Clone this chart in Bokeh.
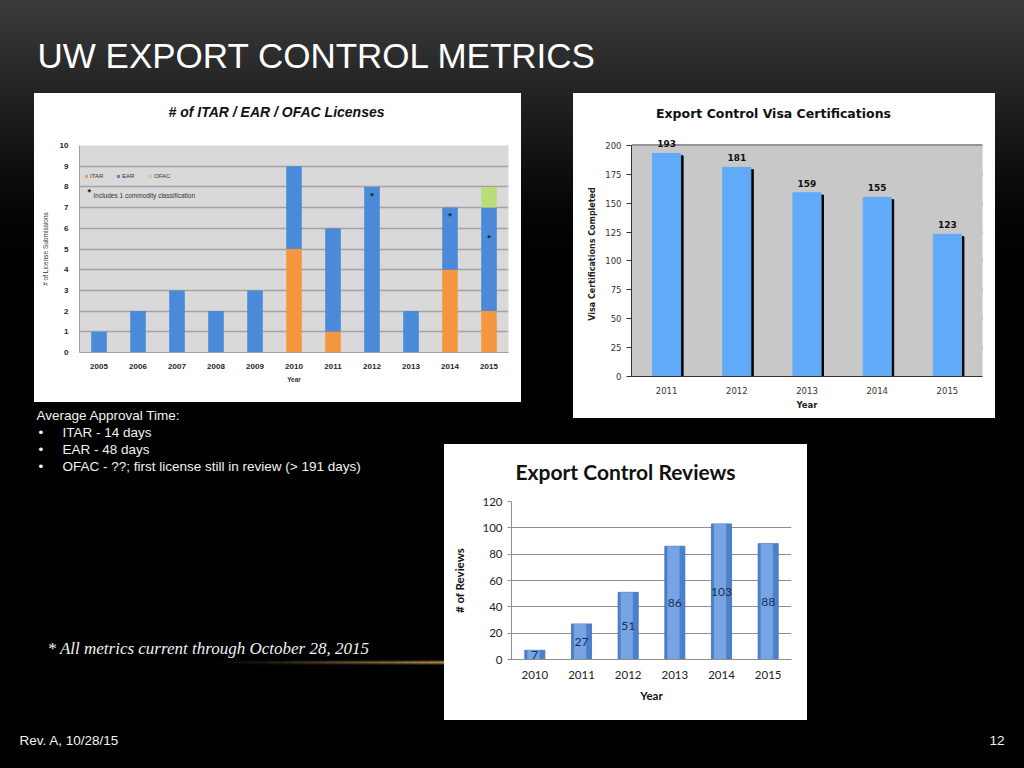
from bokeh.plotting import figure
from bokeh.models import (ColumnDataSource, GridBox, Label, LabelSet, Legend, LegendItem,
                          Range1d, FactorRange, FixedTicker, BoxAnnotation)
from bokeh.embed import file_html
from bokeh.resources import INLINE
from bokeh.core.properties import value
from bokeh.transform import dodge

# ---------------- data ----------------
slide_title = "UW EXPORT CONTROL METRICS"

lic_title = "# of ITAR / EAR / OFAC Licenses"
lic_years = ["2005", "2006", "2007", "2008", "2009", "2010", "2011", "2012", "2013", "2014", "2015"]
lic_itar = [0, 0, 0, 0, 0, 5, 1, 0, 0, 4, 2]
lic_ear = [1, 2, 3, 2, 3, 4, 5, 8, 2, 3, 5]
lic_ofac = [0, 0, 0, 0, 0, 0, 0, 0, 0, 0, 1]
lic_star_years = ["2012", "2014", "2015"]
lic_star_y = [7.55, 6.6, 5.55]
lic_ticks = [0, 1, 2, 3, 4, 5, 6, 7, 8, 9, 10]
lic_note = "Includes 1 commodity classification"

visa_title = "Export Control Visa Certifications"
visa_years = ["2011", "2012", "2013", "2014", "2015"]
visa_counts = [193, 181, 159, 155, 123]
visa_ticks = [0, 25, 50, 75, 100, 125, 150, 175, 200]

rev_title = "Export Control Reviews"
rev_years = ["2010", "2011", "2012", "2013", "2014", "2015"]
rev_counts = [7, 27, 51, 86, 103, 88]
rev_ticks = [0, 20, 40, 60, 80, 100, 120]

approval_head = "Average Approval Time:"
approval_lines = ["ITAR - 14 days", "EAR - 48 days",
                  "OFAC - ??; first license still in review (> 191 days)"]
footnote = "* All metrics current through October 28, 2015"
rev_note = "Rev. A, 10/28/15"
page_no = "12"

SANS = "Liberation Sans"
VER = "DejaVu Sans"
LATO = "Lato"
WHITE_BOX = {"background-color": "#ffffff"}


def no_align(p):
    if "frame_align" in p.properties():
        p.frame_align = False
    return p


def canvas(w, h, bg=None):
    p = figure(width=w, height=h, x_range=Range1d(0, w), y_range=Range1d(0, h),
               toolbar_location=None, output_backend="svg", min_border=0,
               x_axis_location=None, y_axis_location=None, title=None)
    p.grid.visible = False
    p.outline_line_color = None
    if bg is None:
        p.background_fill_alpha = 0
        p.border_fill_alpha = 0
    else:
        p.background_fill_color = bg
        p.border_fill_color = bg
        p.styles = {"background-color": bg}
    return no_align(p)


# ---------------- header (page y 0..93) ----------------
HH = 93
header = canvas(1024, HH)
header.text(x=[37], y=[HH - 55], text=[slide_title], text_font=value(SANS),
            text_font_size="35px", text_color="#ffffff", text_baseline="middle")

# ---------------- lower-left text block (page x 0..444, y 402..700) ----------------
LH = 298
ll = canvas(444, LH)
ll.text(x=[36], y=[LH - 13], text=[approval_head], text_font=value(SANS),
        text_font_size="13.5px", text_color="#f2f2f2", text_baseline="middle")
ll.text(x=[38, 38, 38], y=[LH - 30, LH - 47, LH - 64], text=["\u2022"] * 3,
        text_font=value(SANS), text_font_size="13.5px", text_color="#f2f2f2",
        text_baseline="middle")
ll.text(x=[62, 62, 62], y=[LH - 30, LH - 47, LH - 64], text=approval_lines,
        text_font=value(SANS), text_font_size="13.5px", text_color="#f2f2f2",
        text_baseline="middle")
n = 30
sx0 = [190 + i * (254 / n) for i in range(n)]
sx1 = [190 + (i + 1) * (254 / n) for i in range(n)]
ll.segment(x0=sx0, y0=[LH - 260] * n, x1=sx1, y1=[LH - 260] * n, line_color="#c9a35c",
           line_alpha=[(i / n) ** 1.5 for i in range(n)], line_width=2)
ll.segment(x0=sx0, y0=[LH - 260] * n, x1=sx1, y1=[LH - 260] * n, line_color="#8a6a30",
           line_alpha=[0.35 * (i / n) ** 1.5 for i in range(n)], line_width=5)
ll.text(x=[47], y=[LH - 246], text=[footnote], text_font=value("Liberation Serif"),
        text_font_style="italic", text_font_size="17px", text_color="#f2f2f2",
        text_baseline="middle")

# ---------------- footer (page y 720..768) ----------------
FH = 48
footer = canvas(1024, FH)
footer.text(x=[19], y=[FH - 20], text=[rev_note], text_font=value(SANS),
            text_font_size="13.5px", text_color="#f2f2f2", text_baseline="middle")
footer.text(x=[1004], y=[FH - 20], text=[page_no], text_font=value(SANS),
            text_font_size="13.5px", text_color="#f2f2f2", text_baseline="middle",
            text_align="right")

# ---------------- chart 1: licenses (box x 34..521, y 93..402) ----------------
t1 = canvas(487, 37, bg="#ffffff")
t1.text(x=[242], y=[37 - 18], text=[lic_title], text_font=value(SANS),
        text_font_size="14px", text_font_style="bold italic", text_color="#111111",
        text_align="center", text_baseline="middle")

src1 = ColumnDataSource(dict(year=lic_years, itar=lic_itar, ear=lic_ear, ofac=lic_ofac))
p1 = figure(width=487, height=272, x_range=FactorRange(*lic_years), y_range=Range1d(0, 10),
            toolbar_location=None, output_backend="svg", title=None, styles=WHITE_BOX,
            min_border_left=45, min_border_right=13, min_border_top=15, min_border_bottom=50)
no_align(p1)
p1.background_fill_color = "#d9d9d9"
p1.border_fill_color = "#ffffff"
p1.outline_line_color = None
rs = p1.vbar_stack(["itar", "ear", "ofac"], x="year", width=0.4, source=src1,
                   color=["#f5973f", "#4a8ad8", "#b9de78"], line_color=None)
p1.text(x=lic_star_years, y=lic_star_y, text=["*"] * len(lic_star_years),
        text_font=value(SANS), text_font_size="9px", text_font_style="bold",
        text_color="#1a1a2e", text_align="center", text_baseline="middle")
p1.xgrid.grid_line_color = None
p1.ygrid.ticker = FixedTicker(ticks=lic_ticks)
p1.ygrid.grid_line_color = "#a3a3a3"
p1.ygrid.grid_line_width = 1.3
p1.yaxis.ticker = FixedTicker(ticks=lic_ticks)
for ax in (p1.xaxis[0], p1.yaxis[0]):
    ax.major_label_text_font = SANS
    ax.major_label_text_font_size = "8px"
    ax.major_label_text_font_style = "bold"
    ax.major_label_text_color = "#262626"
    ax.axis_line_color = "#a0a0a0"
    ax.major_tick_line_color = None
    ax.minor_tick_line_color = None
    ax.axis_label_text_font = SANS
    ax.axis_label_text_font_style = "normal"
    ax.axis_label_text_color = "#333333"
p1.yaxis.axis_label = "# of License Submissions"
p1.yaxis.axis_label_text_font_size = "6.5px"
p1.xaxis.axis_label = "Year"
p1.xaxis.axis_label_text_font_size = "6.5px"
p1.xaxis.axis_label_text_font_style = "bold"
p1.xaxis.axis_label_standoff = 4
p1.yaxis.axis_label_standoff = 8
leg = Legend(items=[LegendItem(label="ITAR", renderers=[rs[0]]),
                    LegendItem(label="EAR", renderers=[rs[1]]),
                    LegendItem(label="OFAC", renderers=[rs[2]])],
             location=(5, 173), orientation="horizontal", padding=0, margin=0, spacing=6,
             glyph_width=4, glyph_height=4, label_standoff=2, label_height=6,
             label_text_font=SANS, label_text_font_size="6px", label_text_color="#333333",
             background_fill_alpha=0, border_line_color=None)
p1.add_layout(leg)
p1.add_layout(Label(x=8, y=161, x_units="screen", y_units="screen", text="*",
                    text_font=SANS, text_font_size="9px", text_font_style="bold",
                    text_color="#111111", text_baseline="middle"))
p1.add_layout(Label(x=14, y=157, x_units="screen", y_units="screen", text=lic_note,
                    text_font=SANS, text_font_size="6.5px", text_color="#333333",
                    text_baseline="middle"))

# ---------------- chart 2: visa certifications (box x 573..995, y 93..418) ----------------
t2 = canvas(422, 37, bg="#ffffff")
t2.text(x=[200], y=[37 - 20], text=[visa_title], text_font=value(VER),
        text_font_size="12.5px", text_font_style="bold", text_color="#111111",
        text_align="center", text_baseline="middle")

src2 = ColumnDataSource(dict(year=visa_years, count=visa_counts,
                             shadow=[c - 2 for c in visa_counts],
                             label=[str(c) for c in visa_counts]))
p2 = figure(width=422, height=288, x_range=FactorRange(*visa_years), y_range=Range1d(0, 212),
            toolbar_location=None, output_backend="svg", title=None, styles=WHITE_BOX,
            min_border_left=58, min_border_right=13, min_border_top=1, min_border_bottom=42)
no_align(p2)
p2.background_fill_color = "#ffffff"
p2.border_fill_color = "#ffffff"
p2.outline_line_color = None
p2.add_layout(BoxAnnotation(bottom=visa_ticks[0], top=visa_ticks[-1], fill_color="#c8c8c8",
                            fill_alpha=1, line_color="#7a7a7a", line_width=1,
                            level="underlay"))
p2.xgrid.grid_line_color = None
p2.ygrid.ticker = FixedTicker(ticks=visa_ticks)
p2.ygrid.grid_line_color = "#2b2b2b"
p2.ygrid.grid_line_width = 2
p2.vbar(x=dodge("year", 0.035, range=p2.x_range), top="shadow", width=0.4, source=src2,
        color="#050505")
p2.vbar(x="year", top="count", width=0.4, source=src2, color="#61aaf8")
p2.add_layout(LabelSet(x="year", y="count", text="label", source=src2, y_offset=6,
                       text_font=value(VER), text_font_size=value("9px"),
                       text_font_style=value("bold"),
                       text_color=value("#111111"), text_align=value("center"),
                       text_baseline=value("bottom")))
p2.yaxis.ticker = FixedTicker(ticks=visa_ticks)
p2.yaxis.bounds = (visa_ticks[0], visa_ticks[-1])
for ax in (p2.xaxis[0], p2.yaxis[0]):
    ax.major_label_text_font = VER
    ax.major_label_text_font_size = "8.5px"
    ax.major_label_text_color = "#333333"
    ax.axis_line_color = "#333333"
    ax.minor_tick_line_color = None
    ax.axis_label_text_font = VER
    ax.axis_label_text_font_style = "bold"
    ax.axis_label_text_color = "#222222"
p2.yaxis.major_tick_line_color = "#333333"
p2.yaxis.major_tick_out = 5
p2.yaxis.major_tick_in = 0
p2.xaxis.major_tick_line_color = None
p2.xaxis.major_label_standoff = 4
p2.yaxis.axis_label = "Visa Certifications Completed"
p2.yaxis.axis_label_text_font_size = "8px"
p2.xaxis.axis_label = "Year"
p2.xaxis.axis_label_text_font_size = "8.5px"
p2.xaxis.axis_label_standoff = 3

# ---------------- chart 3: reviews (box x 444..807, y 444..720) ----------------
t3 = canvas(363, 46, bg="#ffffff")
t3.text(x=[181], y=[46 - 27], text=[rev_title], text_font=value(LATO),
        text_font_size="21px", text_font_style="bold", text_color="#111111",
        text_align="center", text_baseline="middle")

src3 = ColumnDataSource(dict(year=rev_years, count=rev_counts,
                             mid=[c / 2 for c in rev_counts],
                             label=[str(c) for c in rev_counts]))
p3 = figure(width=363, height=230, x_range=FactorRange(*rev_years), y_range=Range1d(0, 120),
            toolbar_location=None, output_backend="svg", title=None, styles=WHITE_BOX,
            min_border_left=67, min_border_right=16, min_border_top=11, min_border_bottom=61)
no_align(p3)
p3.background_fill_color = "#ffffff"
p3.border_fill_color = "#ffffff"
p3.outline_line_color = None
p3.xgrid.grid_line_color = None
p3.ygrid.ticker = FixedTicker(ticks=rev_ticks)
p3.ygrid.grid_line_color = "#8f8f8f"
p3.ygrid.grid_line_width = 1
p3.vbar(x="year", top="count", width=0.43, source=src3, fill_color="#4b80cc",
        line_color="#3f6fb5", line_width=0.8)
p3.vbar(x=dodge("year", -0.03, range=p3.x_range), top="count", width=0.26, source=src3,
        fill_color="#86b1ec", line_color=None, fill_alpha=0.75)
p3.text(x="year", y="mid", text="label", source=src3, text_font=value(LATO),
        text_font_size="12px", text_color="#1b2d55", text_align="center",
        text_baseline="middle")
p3.yaxis.ticker = FixedTicker(ticks=rev_ticks)
for ax in (p3.xaxis[0], p3.yaxis[0]):
    ax.major_label_text_font = LATO
    ax.major_label_text_font_size = "11.5px"
    ax.major_label_text_color = "#222222"
    ax.axis_line_color = "#8f8f8f"
    ax.minor_tick_line_color = None
    ax.axis_label_text_font = LATO
    ax.axis_label_text_font_style = "bold"
    ax.axis_label_text_font_size = "11.5px"
    ax.axis_label_text_color = "#111111"
p3.yaxis.major_tick_line_color = "#8f8f8f"
p3.yaxis.major_tick_out = 4
p3.yaxis.major_tick_in = 0
p3.xaxis.major_tick_line_color = None
p3.yaxis.axis_label = "# of Reviews"
p3.xaxis.axis_label = "Year"
p3.xaxis.axis_label_standoff = 7
p3.yaxis.axis_label_standoff = 13

# ---------------- slide layout ----------------
grid = GridBox(
    children=[
        (header, 0, 0, 1, 7),
        (t1, 1, 1, 1, 2),
        (t2, 1, 4, 1, 2),
        (p1, 2, 1, 1, 2),
        (p2, 2, 4, 2, 2),
        (ll, 3, 0, 4, 2),
        (t3, 5, 2, 1, 3),
        (p3, 6, 2, 2, 3),
        (footer, 8, 0, 1, 7),
    ],
    rows=["93px", "37px", "272px", "16px", "26px", "46px", "210px", "20px", "48px"],
    cols=["34px", "410px", "77px", "52px", "234px", "188px", "29px"],
    spacing=0,
    styles={"background": "linear-gradient(to bottom, #3b3b3b 0px, #222222 95px, "
                          "#070707 200px, #000000 260px, #000000 100%)"},
)

open("out.html", "w").write(file_html(grid, INLINE))
